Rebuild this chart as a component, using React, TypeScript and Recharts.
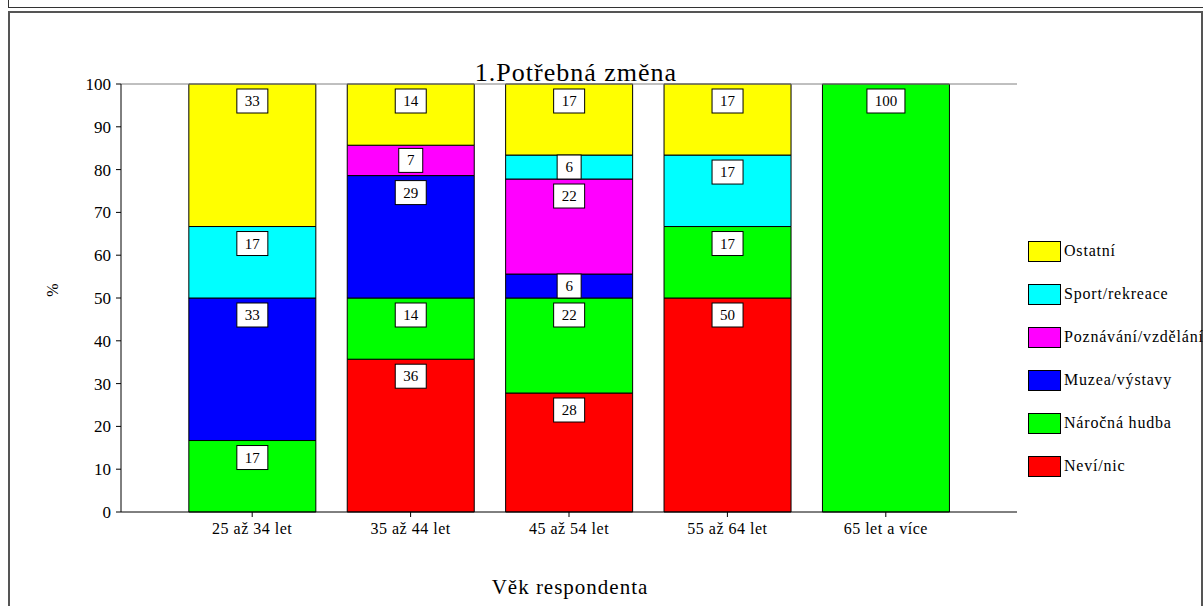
import React from "react";
import { Bar, BarChart, LabelList, ReferenceLine, XAxis, YAxis } from "recharts";

const categories = ["25 až 34 let", "35 až 44 let", "45 až 54 let", "55 až 64 let", "65 let a více"];

// values in %, stacked bottom -> top
const neviNic = [0, 35.7, 27.8, 50, 0];
const narocnaHudba = [16.7, 14.3, 22.2, 16.7, 100];
const muzeaVystavy = [33.3, 28.6, 5.6, 0, 0];
const poznavaniVzdelani = [0, 7.1, 22.2, 0, 0];
const sportRekreace = [16.7, 0, 5.6, 16.7, 0];
const ostatni = [33.3, 14.3, 16.6, 16.6, 0];

const yTicks = [0, 10, 20, 30, 40, 50, 60, 70, 80, 90, 100];

const series = [
  { key: "nevi", name: "Neví/nic", color: "#ff0000", values: neviNic },
  { key: "narocna", name: "Náročná hudba", color: "#00ff00", values: narocnaHudba },
  { key: "muzea", name: "Muzea/výstavy", color: "#0000ff", values: muzeaVystavy },
  { key: "poznavani", name: "Poznávání/vzdělání", color: "#ff00ff", values: poznavaniVzdelani },
  { key: "sport", name: "Sport/rekreace", color: "#00ffff", values: sportRekreace },
  { key: "ostatni", name: "Ostatní", color: "#ffff00", values: ostatni },
];

const data = categories.map((cat, i) => {
  const row: Record<string, string | number> = { cat };
  series.forEach((s) => {
    row[s.key] = s.values[i];
  });
  return row;
});

const FONT = "Liberation Serif, Times New Roman, DejaVu Serif, Noto Serif, serif";

const ValueBox = (props: any) => {
  const { x, y, width, height, value } = props;
  if (!value) return null;
  const txt = String(Math.round(Number(value)));
  const w = 17 + 7 * txt.length;
  const h = 24;
  const cx = Number(x) + Number(width) / 2;
  const top = Number(height) >= 34 ? Number(y) + 5 : Number(y) + Number(height) / 2 - h / 2;
  return (
    <g>
      <rect x={cx - w / 2} y={top} width={w} height={h} fill="#fff" stroke="#000" strokeWidth={1} />
      <text
        x={cx}
        y={top + h / 2 + 5}
        textAnchor="middle"
        fill="#000"
        style={{ fontSize: 15, fontFamily: FONT }}
      >
        {txt}
      </text>
    </g>
  );
};

export default function App() {
  const legendItems = [...series].reverse();
  return (
    <div
      style={{
        position: "absolute",
        left: 0,
        top: 0,
        width: 1203,
        height: 606,
        overflow: "hidden",
        background: "#fff",
        fontFamily: FONT,
      }}
    >
      <div
        style={{
          position: "absolute",
          left: 8,
          top: -12,
          width: 1200,
          height: 18,
          border: "1px solid #333",
        }}
      />
      <div
        style={{
          position: "absolute",
          left: 8,
          top: 11,
          width: 1191,
          height: 620,
          border: "2px solid #555",
        }}
      />
      <div style={{ position: "absolute", left: 0, top: 0, fontFamily: FONT }}>
        <BarChart
          width={1203}
          height={606}
          data={data}
          margin={{ top: 84, right: 186, bottom: 54, left: 61 }}
          barCategoryGap="10%"
          style={{ fontFamily: FONT }}
        >
          <XAxis
            dataKey="cat"
            height={40}
            padding={{ left: 52, right: 52 }}
            tickSize={5}
            tickMargin={6}
            axisLine={{ stroke: "#000" }}
            tickLine={{ stroke: "#000" }}
            tick={{ fontSize: 16, fill: "#000", style: { fontFamily: FONT, letterSpacing: 0.5 } }}
          />
          <YAxis
            width={60}
            domain={[0, 100]}
            ticks={yTicks}
            interval={0}
            tickSize={5}
            tickMargin={5}
            axisLine={{ stroke: "#000" }}
            tickLine={{ stroke: "#000" }}
            tick={{ fontSize: 17, fill: "#000", style: { fontFamily: FONT } }}
          />
          <YAxis
            yAxisId="frame"
            orientation="right"
            width={0}
            domain={[0, 100]}
            tick={false}
            tickLine={false}
            axisLine={{ stroke: "#808080" }}
          />
          <ReferenceLine y={100} stroke="#808080" />
          {series.map((s) => (
            <Bar
              key={s.key}
              dataKey={s.key}
              name={s.name}
              stackId="a"
              fill={s.color}
              stroke="#000"
              strokeWidth={1}
              isAnimationActive={false}
            >
              <LabelList dataKey={s.key} content={ValueBox} />
            </Bar>
          ))}
        </BarChart>
      </div>
      <div
        style={{
          position: "absolute",
          left: 376,
          width: 400,
          top: 58,
          textAlign: "center",
          fontSize: 26,
          letterSpacing: 1,
          lineHeight: "30px",
        }}
      >
        1.Potřebná změna
      </div>
      <div
        style={{
          position: "absolute",
          left: 370,
          width: 400,
          top: 575,
          textAlign: "center",
          fontSize: 21,
          letterSpacing: 1,
          lineHeight: "24px",
        }}
      >
        Věk respondenta
      </div>
      <div
        style={{
          position: "absolute",
          left: 45,
          top: 281,
          width: 16,
          height: 18,
          fontSize: 16,
          lineHeight: "18px",
          textAlign: "center",
          transform: "rotate(-90deg)",
        }}
      >
        %
      </div>
      {legendItems.map((s, i) => (
        <div
          key={s.key}
          style={{
            position: "absolute",
            left: 1028,
            top: 240 + i * 43,
            height: 22,
            display: "flex",
            alignItems: "center",
            whiteSpace: "nowrap",
            fontSize: 16,
            letterSpacing: 0.8,
          }}
        >
          <div
            style={{
              width: 31,
              height: 19,
              background: s.color,
              border: "1px solid #000",
              marginRight: 3,
            }}
          />
          <span>{s.name}</span>
        </div>
      ))}
    </div>
  );
}
